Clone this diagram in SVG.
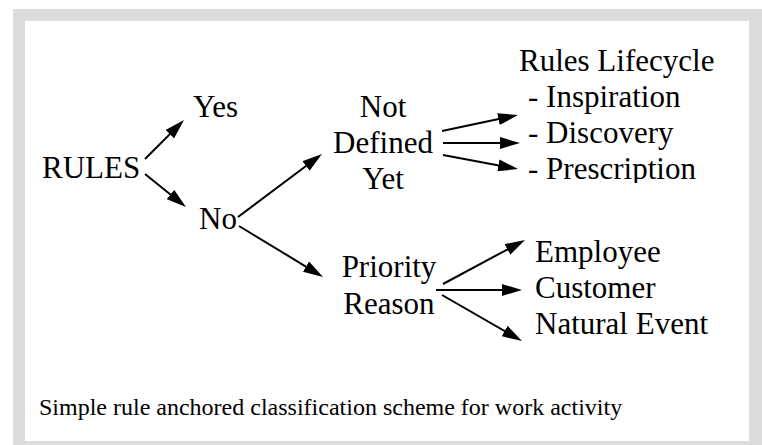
<svg xmlns="http://www.w3.org/2000/svg" width="762" height="445" viewBox="0 0 762 445">
<style>
.t{font-family:"Liberation Serif","Times New Roman",serif;font-size:31px;fill:#000}
.c{font-family:"Liberation Serif","Times New Roman",serif;font-size:24px;fill:#000}
.ln{stroke:#000;stroke-width:2;fill:none;marker-end:url(#ah)}
</style>
<defs>
<marker id="ah" markerUnits="userSpaceOnUse" markerWidth="20" markerHeight="12" refX="10" refY="6" orient="auto">
<path d="M0,0 L20,6 L0,12 Z" fill="#000"/>
</marker>
<clipPath id="clipP"><rect x="0" y="0" width="762" height="183"/></clipPath>
</defs>
<rect x="0" y="0" width="762" height="445" fill="#fff"/>
<rect x="13" y="9" width="749" height="440" fill="#dcdcdc"/>
<rect x="25" y="21" width="724" height="420" fill="#fff"/>
<g id="connectors">
<line class="ln" x1="145" y1="159" x2="176.9" y2="127.1"/>
<line class="ln" x1="145" y1="174" x2="178.2" y2="200.7"/>
<line class="ln" x1="238" y1="217" x2="314" y2="160"/>
<line class="ln" x1="239" y1="226" x2="314.5" y2="271.8"/>
<line class="ln" x1="442" y1="131" x2="508.2" y2="117.1"/>
<line class="ln" x1="443" y1="143" x2="510" y2="143"/>
<line class="ln" x1="443" y1="155" x2="508.2" y2="167.2"/>
<line class="ln" x1="443" y1="284" x2="516.2" y2="244.7"/>
<line class="ln" x1="436" y1="290" x2="512" y2="290"/>
<line class="ln" x1="442" y1="295" x2="513.3" y2="336"/>
</g>
<g id="rules"><text class="t" x="42" y="178">RULES</text></g>
<g id="yes"><text class="t" x="193" y="117">Yes</text></g>
<g id="no"><text class="t" x="199" y="229">No</text></g>
<g id="not-defined-yet">
<text class="t" x="383" y="117" text-anchor="middle">Not</text>
<text class="t" x="383" y="153" text-anchor="middle">Defined</text>
<text class="t" x="383" y="189" text-anchor="middle">Yet</text>
</g>
<g id="rules-lifecycle">
<text class="t" x="519" y="71">Rules Lifecycle</text>
<text class="t" x="528" y="107">- Inspiration</text>
<text class="t" x="528" y="143">- Discovery</text>
<text class="t" x="528" y="179" clip-path="url(#clipP)">- Prescription</text>
</g>
<g id="priority-reason">
<text class="t" x="389" y="277" text-anchor="middle">Priority</text>
<text class="t" x="389" y="314" text-anchor="middle">Reason</text>
</g>
<g id="employee"><text class="t" x="535" y="262">Employee</text></g>
<g id="customer"><text class="t" x="535" y="298">Customer</text></g>
<g id="natural-event"><text class="t" x="535" y="334">Natural Event</text></g>
<g id="caption"><text class="c" x="39" y="415">Simple rule anchored classification scheme for work activity</text></g>
</svg>
